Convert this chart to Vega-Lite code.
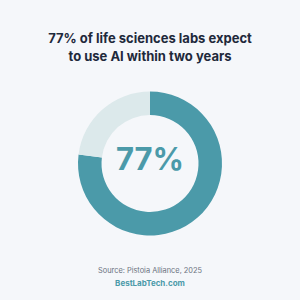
{
  "$schema": "https://vega.github.io/schema/vega-lite/v6.json",
  "background": "#f5f7fa",
  "padding": {"top": 33, "left": 0, "right": 0, "bottom": 10},
  "spacing": 19,
  "config": {"view": {"stroke": null}, "font": "Inter"},
  "vconcat": [
    {
      "width": 300,
      "height": 163,
      "title": {
        "text": ["77% of life sciences labs expect", "to use AI within two years"],
        "anchor": "middle",
        "font": "Inter",
        "fontSize": 13,
        "fontWeight": "bold",
        "color": "#1e293b",
        "lineHeight": 18,
        "offset": 18
      },
      "data": {"values": [
        {"segment": "Expect AI", "value": 77},
        {"segment": "Other", "value": 23}
      ]},
      "layer": [
        {
          "mark": {"type": "arc", "radius": 72, "radius2": 48.5},
          "encoding": {
            "theta": {"field": "value", "type": "quantitative", "stack": true},
            "color": {"field": "segment", "type": "nominal", "legend": null,
              "scale": {"domain": ["Expect AI", "Other"], "range": ["#4b9aa9", "#dce9eb"]}},
            "order": {"field": "segment", "sort": "ascending"}
          }
        },
        {
          "data": {"values": [{"label": "77%"}]},
          "mark": {"type": "text", "font": "Inter", "fontSize": 31, "fontWeight": "bold", "color": "#4b9aa9", "baseline": "middle", "align": "center", "dy": -3},
          "encoding": {"text": {"field": "label", "type": "nominal"}}
        }
      ]
    },
    {
      "width": 300,
      "height": 26,
      "data": {"values": [
        {"line": "source", "label": "Source: Pistoia Alliance, 2025"},
        {"line": "brand", "label": "BestLabTech.com"}
      ]},
      "encoding": {
        "y": {"field": "line", "type": "nominal", "axis": null, "sort": ["source", "brand"], "scale": {"paddingInner": 0, "paddingOuter": 0}},
        "text": {"field": "label", "type": "nominal"}
      },
      "layer": [
        {
          "transform": [{"filter": "datum.line === 'source'"}],
          "mark": {"type": "text", "font": "Inter", "align": "center", "baseline": "middle", "fontSize": 7.4, "color": "#6b7280"}
        },
        {
          "transform": [{"filter": "datum.line === 'brand'"}],
          "mark": {"type": "text", "font": "Inter", "align": "center", "baseline": "middle", "fontSize": 8, "fontWeight": "bold", "color": "#4b9aa9"}
        }
      ]
    }
  ]
}
